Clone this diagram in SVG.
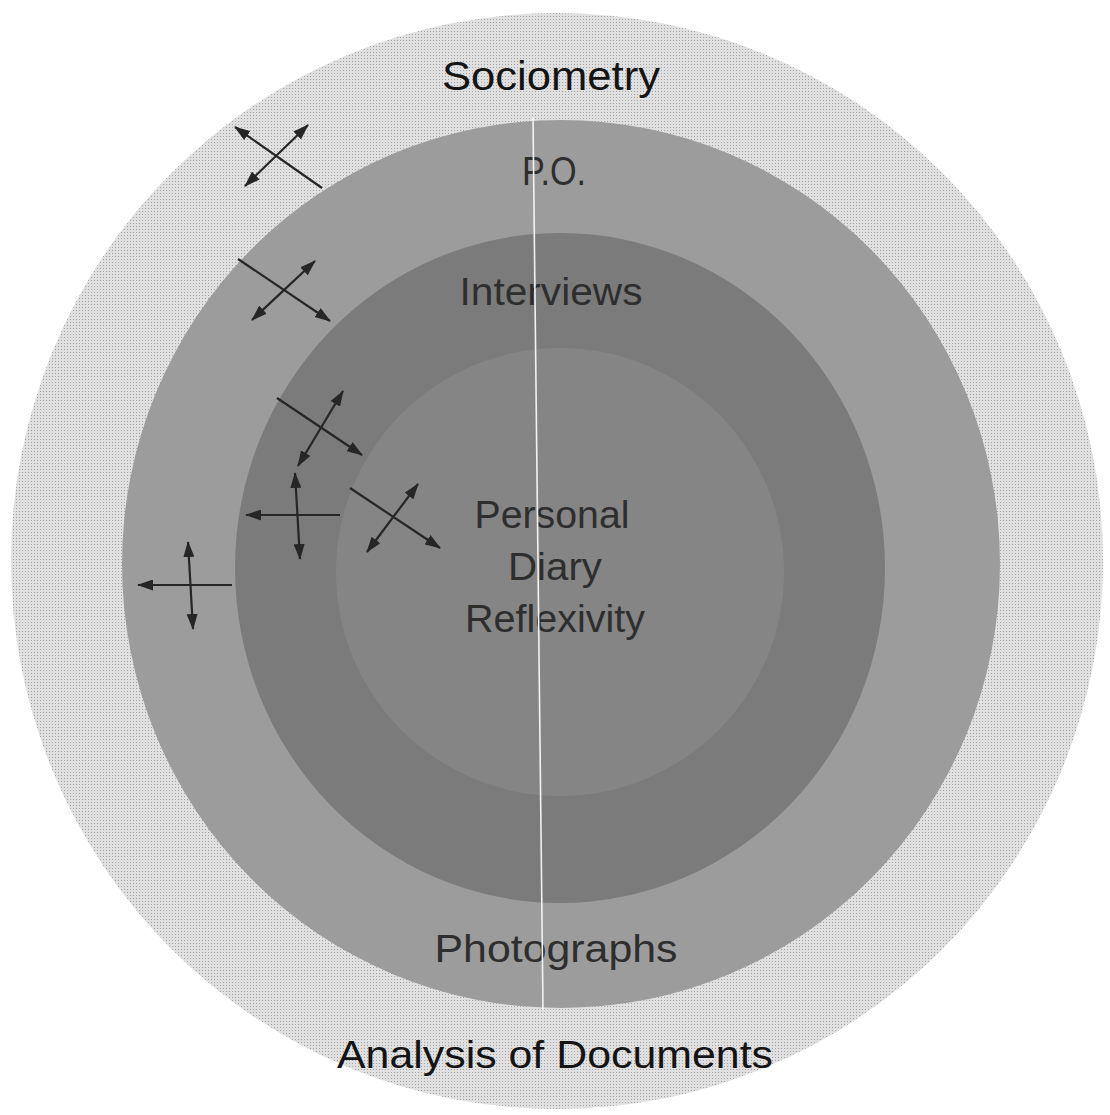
<svg xmlns="http://www.w3.org/2000/svg" width="1110" height="1115" viewBox="0 0 1110 1115">
  <defs>
    <pattern id="dots" width="3" height="3" patternUnits="userSpaceOnUse">
      <rect width="3" height="3" fill="#e0e0e0"/>
      <rect x="1" y="1" width="1" height="1" fill="#a2a2a2"/>
    </pattern>
    <marker id="ah" viewBox="0 0 16 11" refX="15" refY="5.5" markerWidth="16" markerHeight="11" markerUnits="userSpaceOnUse" orient="auto-start-reverse">
      <path d="M0,0 L16,5.5 L0,11 z" fill="#262626"/>
    </marker>
  </defs>
  <style>
    .lbl { font-family: "Liberation Sans", Arial, sans-serif; text-anchor: middle; }
    .dark { fill: #141414; }
    .mid { fill: #2e2e2e; }
    .arr { stroke: #262626; stroke-width: 2.2; fill: none; }
  </style>
  <rect width="1110" height="1115" fill="#ffffff"/>

  <g id="ring-sociometry">
    <ellipse cx="557" cy="561" rx="546" ry="548" fill="url(#dots)"/>
    <text class="lbl dark" x="551" y="90" font-size="41" textLength="218" lengthAdjust="spacingAndGlyphs">Sociometry</text>
    <text class="lbl dark" x="555" y="1068" font-size="39" textLength="436" lengthAdjust="spacingAndGlyphs">Analysis of Documents</text>
  </g>

  <g id="ring-po">
    <ellipse cx="561" cy="564" rx="439" ry="444" fill="#9c9c9c"/>
    <text class="lbl mid" x="554" y="185" font-size="40" textLength="64" lengthAdjust="spacingAndGlyphs">P.O.</text>
    <text class="lbl mid" x="556" y="962" font-size="38" textLength="243" lengthAdjust="spacingAndGlyphs">Photographs</text>
  </g>

  <g id="ring-interviews">
    <ellipse cx="560" cy="568" rx="325" ry="335" fill="#7b7b7b"/>
    <text class="lbl mid" x="551" y="305" font-size="38" textLength="183" lengthAdjust="spacingAndGlyphs">Interviews</text>
  </g>

  <g id="core-personal">
    <circle cx="560" cy="572" r="224" fill="#858585"/>
    <text class="lbl mid" x="552" y="528" font-size="38" textLength="155" lengthAdjust="spacingAndGlyphs">Personal</text>
    <text class="lbl mid" x="555" y="580" font-size="38" textLength="94" lengthAdjust="spacingAndGlyphs">Diary</text>
    <text class="lbl mid" x="555" y="632" font-size="38" textLength="180" lengthAdjust="spacingAndGlyphs">Reflexivity</text>
  </g>

  <line x1="533" y1="118" x2="543" y2="1010" stroke="#f2f2f2" stroke-width="1.6"/>

  <g id="connectors">
    <line class="arr" x1="322" y1="188" x2="235" y2="127" marker-end="url(#ah)" stroke="#111"/>
    <line class="arr" x1="245" y1="186" x2="308" y2="125" marker-start="url(#ah)" marker-end="url(#ah)" stroke="#111"/>

    <line class="arr" x1="238" y1="259" x2="330" y2="321" marker-end="url(#ah)"/>
    <line class="arr" x1="252" y1="320" x2="315" y2="261" marker-start="url(#ah)" marker-end="url(#ah)"/>

    <line class="arr" x1="277" y1="398" x2="362" y2="455" marker-end="url(#ah)"/>
    <line class="arr" x1="298" y1="466" x2="343" y2="391" marker-start="url(#ah)" marker-end="url(#ah)"/>

    <line class="arr" x1="340" y1="515" x2="246" y2="515" marker-end="url(#ah)"/>
    <line class="arr" x1="295" y1="473" x2="300" y2="559" marker-start="url(#ah)" marker-end="url(#ah)"/>

    <line class="arr" x1="350" y1="488" x2="440" y2="548" marker-end="url(#ah)"/>
    <line class="arr" x1="367" y1="552" x2="418" y2="484" marker-start="url(#ah)" marker-end="url(#ah)"/>

    <line class="arr" x1="232" y1="585" x2="138" y2="585" marker-end="url(#ah)"/>
    <line class="arr" x1="188" y1="542" x2="193" y2="629" marker-start="url(#ah)" marker-end="url(#ah)"/>
  </g>
</svg>
